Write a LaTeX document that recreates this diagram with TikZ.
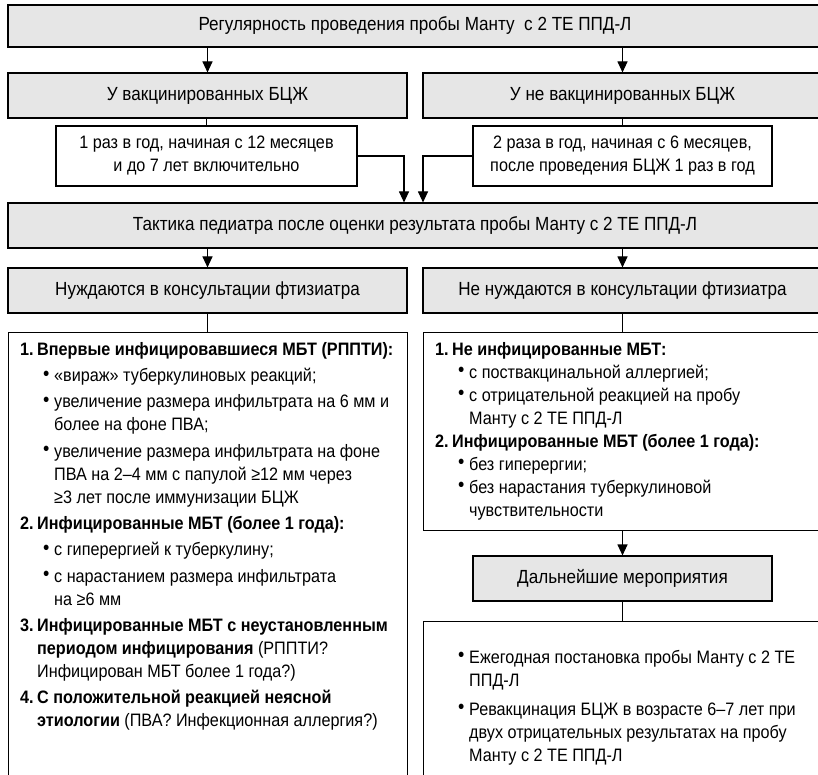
\documentclass[tikz,border=0pt]{standalone}
\usepackage{fontspec}
\setmainfont{Liberation Sans}[FakeStretch=0.9]
\definecolor{boxgray}{RGB}{230, 230, 230}
\usetikzlibrary{
  arrows.meta,
  calc,
  positioning,
}
\tikzset{
  >={Triangle[length=11pt,width=10pt]},
  graybox/.style={draw, line width=1.1pt, fill=boxgray, inner sep=0pt,
    minimum height=45pt, font=\fontsize{19}{22}\selectfont},
  whitebox/.style={draw, line width=1.1pt, fill=white, inner sep=0pt,
    align=center, font=\fontsize{18}{23}\selectfont},
  framebox/.style={draw, line width=1.1pt, fill=white, inner sep=0pt,
    anchor=north west},
  listtext/.style={anchor=north west, inner sep=0pt, align=left,
    font=\fontsize{18}{23}\selectfont},
  link/.style={line width=1.1pt},
}
\newcommand{\numhd}[2]{\makebox[17pt][l]{\textbf{#1}}\textbf{#2}}
\newcommand{\bul}[1]{\hspace*{23pt}\makebox[11pt][l]{\raisebox{1.5pt}{\fontsize{20}{20}\selectfont•}}#1}
\newcommand{\cont}[1]{\hspace*{34pt}#1}

\begin{document}
\begin{tikzpicture}[x=1pt, y=-1pt]
  \useasboundingbox (0,0) rectangle (818,775);

  % header rows
  \node [graybox, minimum width=814pt, minimum height=42pt] at (415, 26) (regular)
        {Регулярность проведения пробы Манту\ \ с 2 ТЕ ППД-Л};
  \node [graybox, minimum width=399pt] at (207.5, 95.5) (vacc)
        {У вакцинированных БЦЖ};
  \node [graybox, minimum width=399pt] at (622.5, 95.5) (nonvacc)
        {У не вакцинированных БЦЖ};

  \node [whitebox, minimum width=301pt, minimum height=60pt] at (206.5, 156) (once)
        {1 раз в год, начиная с 12 месяцев\\и до 7 лет включительно};
  \node [whitebox, minimum width=299pt, minimum height=60pt] at (622.5, 156) (twice)
        {2 раза в год, начиная с 6 месяцев,\\после проведения БЦЖ 1 раз в год};

  \node [graybox, minimum width=814pt] at (415, 225.5) (tactic)
        {Тактика педиатра после оценки результата пробы Манту с 2 ТЕ ППД-Л};
  \node [graybox, minimum width=399pt] at (207.5, 290.5) (need)
        {Нуждаются в консультации фтизиатра};
  \node [graybox, minimum width=399pt] at (622.5, 290.5) (noneed)
        {Не нуждаются в консультации фтизиатра};

  % list boxes
  \node [framebox, minimum width=399pt, minimum height=480pt] at (8, 332) (needbox) {};
  \node [framebox, minimum width=399pt, minimum height=198pt] at (423, 332) (noneedbox) {};
  \node [graybox, minimum width=299pt] at (622.5, 578.5) (further)
        {Дальнейшие мероприятия};
  \node [framebox, minimum width=399pt, minimum height=190pt] at (423, 621) (furtherbox) {};

  \node [listtext] at ($(needbox.north west) + (12, 10)$) (needlist) {%
    \numhd{1.}{Впервые инфицировавшиеся МБТ (РППТИ):}\\[3.3pt]
    \bul{«вираж» туберкулиновых реакций;}\\[3.3pt]
    \bul{увеличение размера инфильтрата на 6 мм и}\\
    \cont{более на фоне ПВА;}\\[3.3pt]
    \bul{увеличение размера инфильтрата на фоне}\\
    \cont{ПВА на 2–4 мм с папулой ≥12 мм через}\\
    \cont{≥3 лет после иммунизации БЦЖ}\\[3.3pt]
    \numhd{2.}{Инфицированные МБТ (более 1 года):}\\[3.3pt]
    \bul{с гиперергией к туберкулину;}\\[3.3pt]
    \bul{с нарастанием размера инфильтрата}\\
    \cont{на ≥6 мм}\\[3.3pt]
    \numhd{3.}{Инфицированные МБТ с неустановленным}\\
    \hspace*{17pt}\textbf{периодом инфицирования} (РППТИ?\\
    \hspace*{17pt}Инфицирован МБТ более 1 года?)\\[3.3pt]
    \numhd{4.}{С положительной реакцией неясной}\\
    \hspace*{17pt}\textbf{этиологии} (ПВА? Инфекционная аллергия?)};

  \node [listtext] at ($(noneedbox.north west) + (12, 10)$) (noneedlist) {%
    \numhd{1.}{Не инфицированные МБТ:}\\
    \bul{с поствакцинальной аллергией;}\\
    \bul{с отрицательной реакцией на пробу}\\
    \cont{Манту с 2 ТЕ ППД-Л}\\
    \numhd{2.}{Инфицированные МБТ (более 1 года):}\\
    \bul{без гиперергии;}\\
    \bul{без нарастания туберкулиновой}\\
    \cont{чувствительности}};

  \node [listtext] at ($(furtherbox.north west) + (12, 29)$) (furtherlist) {%
    \bul{Ежегодная постановка пробы Манту с 2 ТЕ}\\
    \cont{ППД-Л}\\[6pt]
    \bul{Ревакцинация БЦЖ в возрасте 6–7 лет при}\\
    \cont{двух отрицательных результатах на пробу}\\
    \cont{Манту с 2 ТЕ ППД-Л}};

  % connectors
  \draw [link, ->] (regular.south -| vacc) -- (vacc.north);
  \draw [link, ->] (regular.south -| nonvacc) -- (nonvacc.north);
  \draw [link] (vacc.south -| once) -- (once.north);
  \draw [link] (nonvacc.south -| twice) -- (twice.north);
  \coordinate (joinL) at (404, 156);
  \coordinate (joinR) at (423, 156);
  \draw [link, ->] (once.east) -- (joinL) -- (joinL |- tactic.north);
  \draw [link, ->] (twice.west) -- (joinR) -- (joinR |- tactic.north);
  \draw [link, ->] (tactic.south -| need) -- (need.north);
  \draw [link, ->] (tactic.south -| noneed) -- (noneed.north);
  \draw [link] (need.south) -- (need.south |- needbox.north);
  \draw [link] (noneed.south) -- (noneed.south |- noneedbox.north);
  \draw [link, ->] (noneedbox.south -| further) -- (further.north);
  \draw [link] (further.south) -- (further.south |- furtherbox.north);
\end{tikzpicture}
\end{document}
